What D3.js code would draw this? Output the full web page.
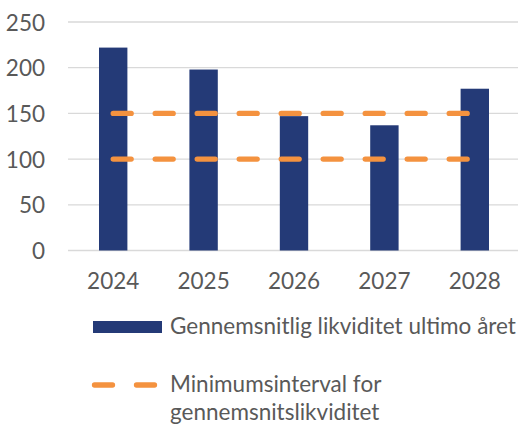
<!DOCTYPE html>
<html><head><meta charset="utf-8">
<script src="https://cdn.jsdelivr.net/npm/d3@7"></script>
<style>html,body{margin:0;padding:0;background:#fff;}svg{display:block;}</style>
</head><body>
<script>
const categories = ["2024", "2025", "2026", "2027", "2028"];
const liquidity = [222, 198, 147, 137, 177];
const minLower = [100, 100, 100, 100, 100];
const minUpper = [150, 150, 150, 150, 150];
const yTicks = [0, 50, 100, 150, 200, 250];
const legendLabels = ["Gennemsnitlig likviditet ultimo året", ["Minimumsinterval for", "gennemsnitslikviditet"]];

const W = 518, H = 426;
const navy = "#243A77", orange = "#F4923F", grid = "#D9D9D9", txt = "#595959";
const font = "Lato, 'Open Sans', sans-serif";
const fs = 22.5;

const svg = d3.select("body").append("svg").attr("width", W).attr("height", H);

const x = d3.scaleBand().domain(categories).range([68, 520]).paddingInner(0.686).paddingOuter(0.343);
const y = d3.scaleLinear().domain([0, 250]).range([250.5, 22]);

// gridlines
svg.append("g").selectAll("line").data(yTicks).join("line")
  .attr("x1", 68).attr("x2", 518)
  .attr("y1", d => y(d)).attr("y2", d => y(d))
  .attr("stroke", grid).attr("stroke-width", 1.3);

// y axis labels
const yAxis = d3.axisLeft(y).tickValues(yTicks).tickSize(0).tickPadding(0);
const gy = svg.append("g").attr("transform", "translate(45,0)").call(yAxis);
gy.select(".domain").remove();
gy.selectAll("text").attr("font-family", font).attr("font-size", fs).attr("fill", txt).attr("dy", "0.36em");

// x axis labels
const xAxis = d3.axisBottom(x).tickSize(0).tickPadding(0);
const gx = svg.append("g").attr("transform", "translate(0,289)").call(xAxis);
gx.select(".domain").remove();
gx.selectAll("text").attr("font-family", font).attr("font-size", fs).attr("fill", txt).attr("dy", 0);

// bars
svg.append("g").selectAll("rect").data(liquidity).join("rect")
  .attr("x", (d, i) => x(categories[i]))
  .attr("width", x.bandwidth())
  .attr("y", d => y(d))
  .attr("height", d => y(0) - y(d))
  .attr("fill", navy);

// dashed lines
const line = d3.line().x((d, i) => x(categories[i]) + x.bandwidth() / 2).y(d => y(d));
[minUpper, minLower].forEach(s => {
  svg.append("path").datum(s).attr("d", line)
    .attr("fill", "none").attr("stroke", orange).attr("stroke-width", 5.3)
    .attr("stroke-linecap", "round").attr("stroke-dasharray", "18 24");
});

// legend
const lg = svg.append("g");
lg.append("rect").attr("x", 93).attr("y", 321).attr("width", 69).attr("height", 12).attr("fill", navy);
lg.append("text").attr("x", 170).attr("y", 334).text(legendLabels[0])
  .attr("font-family", font).attr("font-size", fs).attr("fill", txt);
lg.append("line").attr("x1", 94.5).attr("x2", 160).attr("y1", 385).attr("y2", 385)
  .attr("stroke", orange).attr("stroke-width", 5.3).attr("stroke-linecap", "round").attr("stroke-dasharray", "18 24");
const t2 = lg.append("text").attr("font-family", font).attr("font-size", fs).attr("fill", txt);
t2.selectAll("tspan").data(legendLabels[1]).join("tspan")
  .attr("x", 170).attr("y", (d, i) => 392 + i * 28).text(d => d);
</script>
</body></html>
